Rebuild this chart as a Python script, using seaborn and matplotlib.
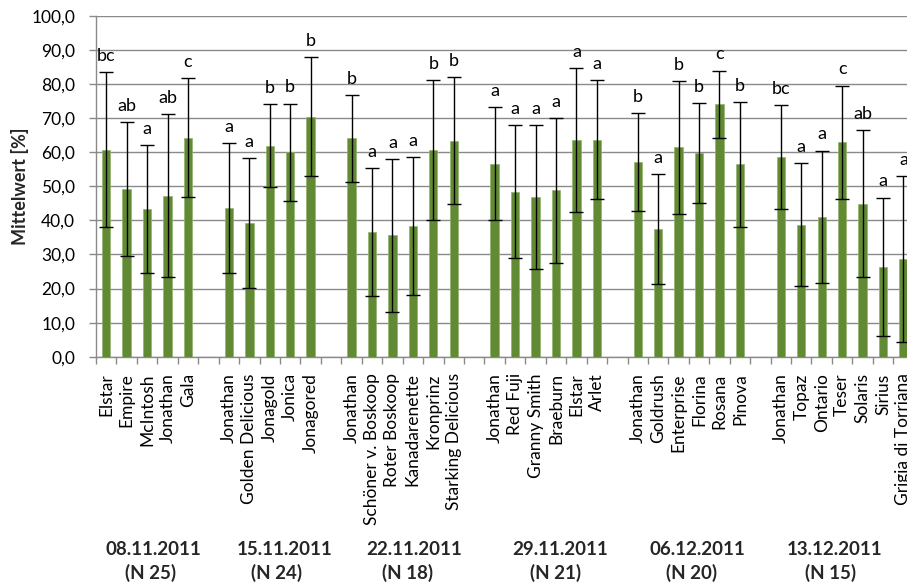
import numpy as np
import pandas as pd
import matplotlib
matplotlib.use("Agg")
import matplotlib.pyplot as plt
import seaborn as sns
from matplotlib.ticker import FixedLocator, FuncFormatter

# Sampling dates and number of samples per date
dates = ["08.11.2011", "15.11.2011", "22.11.2011", "29.11.2011", "06.12.2011", "13.12.2011"]
n_samples = [25, 24, 18, 21, 20, 15]

# Varieties tested on each date
varieties_1 = ["Elstar", "Empire", "McIntosh", "Jonathan", "Gala"]
varieties_2 = ["Jonathan", "Golden Delicious", "Jonagold", "Jonica", "Jonagored"]
varieties_3 = ["Jonathan", "Schöner v. Boskoop", "Roter Boskoop", "Kanadarenette", "Kronprinz", "Starking Delicious"]
varieties_4 = ["Jonathan", "Red Fuji", "Granny Smith", "Braeburn", "Elstar", "Arlet"]
varieties_5 = ["Jonathan", "Goldrush", "Enterprise", "Florina", "Rosana", "Pinova"]
varieties_6 = ["Jonathan", "Topaz", "Ontario", "Teser", "Solaris", "Sirius", "Grigia di Torriana"]

# Mean values [%]
mean_1 = [60.8, 49.3, 43.4, 47.3, 64.3]
mean_2 = [43.6, 39.3, 61.9, 60.0, 70.5]
mean_3 = [64.1, 36.6, 35.6, 38.3, 60.7, 63.4]
mean_4 = [56.7, 48.4, 46.9, 48.8, 63.6, 63.7]
mean_5 = [57.1, 37.5, 61.5, 59.8, 74.1, 56.5]
mean_6 = [58.6, 38.8, 41.0, 63.0, 44.9, 26.4, 28.6]

# Standard deviations
sd_1 = [22.8, 19.6, 18.7, 23.8, 17.5]
sd_2 = [19.1, 19.1, 12.2, 14.3, 17.4]
sd_3 = [12.8, 18.8, 22.5, 20.3, 20.5, 18.6]
sd_4 = [16.6, 19.5, 21.2, 21.3, 21.1, 17.4]
sd_5 = [14.3, 16.1, 19.5, 14.7, 9.9, 18.3]
sd_6 = [15.2, 18.0, 19.5, 16.6, 21.6, 20.3, 24.4]

# Significance letters
letters_1 = ["bc", "ab", "a", "ab", "c"]
letters_2 = ["a", "a", "b", "b", "b"]
letters_3 = ["b", "a", "a", "a", "b", "b"]
letters_4 = ["a", "a", "a", "a", "a", "a"]
letters_5 = ["b", "a", "b", "b", "c", "b"]
letters_6 = ["bc", "a", "a", "c", "ab", "a", "a"]

varieties = [varieties_1, varieties_2, varieties_3, varieties_4, varieties_5, varieties_6]
means = [mean_1, mean_2, mean_3, mean_4, mean_5, mean_6]
sds = [sd_1, sd_2, sd_3, sd_4, sd_5, sd_6]
letters = [letters_1, letters_2, letters_3, letters_4, letters_5, letters_6]

# Build a long table; one empty slot separates consecutive dates
rows, order, tick_names = [], [], []
for gi, (d, vs, ms, ss, ls) in enumerate(zip(dates, varieties, means, sds, letters)):
    for v, m, s, l in zip(vs, ms, ss, ls):
        key = f"{d}|{v}"
        rows.append(dict(key=key, variety=v, date=d, mean=m, sd=s, letter=l))
        order.append(key)
        tick_names.append(v)
    if gi < len(dates) - 1:
        order.append(f"gap{gi}")
        tick_names.append("")
df = pd.DataFrame(rows)
df["pos"] = [order.index(k) for k in df["key"]]

FONT = ["Lato", "DejaVu Sans"]
sns.set_theme(style="white")
plt.rcParams["font.family"] = FONT

W, H, DPI = 907, 584, 100
fig = plt.figure(figsize=(W / DPI, H / DPI), dpi=DPI)
ax = fig.add_axes([96 / W, 1 - 356.7 / H, 817.7 / W, 340.7 / H])

grey = "#8a8a8a"
green = "#628a34"

sns.barplot(data=df, x="key", y="mean", order=order, color=green, width=0.41,
            errorbar=None, saturation=1, ax=ax, zorder=3,
            edgecolor="#8fb36c", linewidth=0.5)

ax.errorbar(df["pos"], df["mean"], yerr=df["sd"], fmt="none", ecolor="black",
            elinewidth=1.0, capsize=5, capthick=1.0, zorder=4)

for _, r in df.iterrows():
    ax.annotate(r["letter"], (r["pos"], r["mean"] + r["sd"]), xytext=(0, 8),
                textcoords="offset points", ha="center", va="baseline",
                fontsize=13, color="black", zorder=5, annotation_clip=False)

ax.set_xlim(-0.5, len(order) - 0.5)
ax.set_ylim(0, 100)
ax.set_yticks(np.arange(0, 101, 10))
ax.yaxis.set_major_formatter(FuncFormatter(lambda v, p: f"{v:.1f}".replace(".", ",")))
ax.grid(axis="y", color=grey, linewidth=1.0, zorder=0)
ax.grid(axis="x", visible=False)
ax.set_axisbelow(True)

ax.set_xticks(range(len(order)))
ax.set_xticklabels(tick_names, rotation=90, fontsize=12.5, color="black")
ax.xaxis.set_minor_locator(FixedLocator(np.arange(-0.5, len(order), 1.0)))
ax.tick_params(axis="x", which="major", length=0, pad=12)
ax.tick_params(axis="x", which="minor", length=5, color=grey, width=1, direction="out", bottom=True)
ax.tick_params(axis="y", length=5, color=grey, width=1, direction="out", left=True,
               labelsize=12.5, pad=10, labelcolor="black")

for side in ["top", "right"]:
    ax.spines[side].set_visible(False)
for side in ["left", "bottom"]:
    ax.spines[side].set_color(grey)
    ax.spines[side].set_linewidth(1.0)

ax.set_xlabel("")
ax.set_ylabel("Mittelwert [%]", fontsize=13, fontweight="bold", labelpad=2)

# Date and sample-size captions under each group (in slot units)
date_x = [2.30, 8.71, 15.07, 22.18, 28.93, 35.61]
n_x = [2.18, 8.34, 14.72, 21.99, 28.64, 35.41]
trans = ax.get_xaxis_transform()
for d, n, xd, xn in zip(dates, n_samples, date_x, n_x):
    ax.text(xd, -0.566, d, transform=trans, ha="center", va="center",
            fontsize=13.5, fontweight="bold", clip_on=False)
    ax.text(xn, -0.634, f"(N {n})", transform=trans, ha="center", va="center",
            fontsize=13.5, fontweight="bold", clip_on=False)

fig.savefig("out.png", dpi=DPI)
